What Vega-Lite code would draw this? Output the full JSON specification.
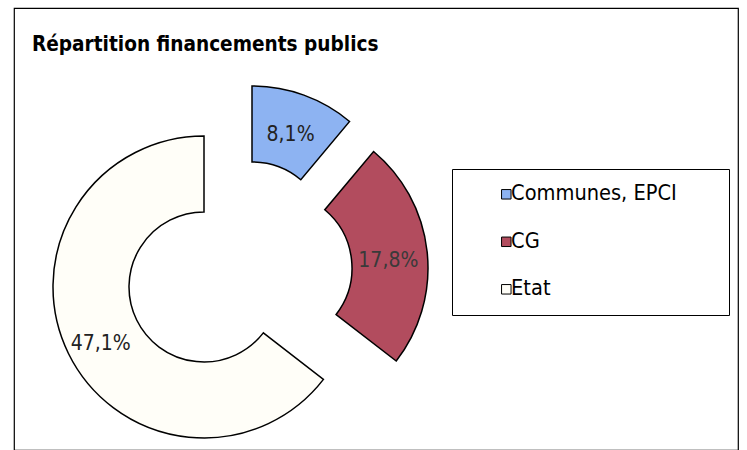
{
  "$schema": "https://vega.github.io/schema/vega-lite/v6.json",
  "autosize": "none",
  "width": 724,
  "height": 442,
  "padding": {"left": 14, "top": 8, "right": 9, "bottom": 0},
  "background": "white",
  "view": {"stroke": "black", "strokeWidth": 1.2},
  "config": {"view": {"stroke": "black", "strokeWidth": 1.2}, "font": "DejaVu Sans Condensed"},
  "title": {"text": "Répartition financements publics", "anchor": "start", "frame": "group", "orient": "top", "baseline": "alphabetic", "offset": -44, "dx": 18, "dy": 20, "font": "DejaVu Sans Condensed", "fontSize": 20.6, "fontWeight": "bold", "color": "black"},
  "data": {"values": [
    {"cat": "Communes, EPCI", "value": 8.1, "label": "8,1%"},
    {"cat": "CG", "value": 17.8, "label": "17,8%"},
    {"cat": "Etat", "value": 47.1, "label": "47,1%"}
  ]},
  "encoding": {
    "theta": {"field": "value", "type": "quantitative", "stack": true},
    "order": {"field": "value", "sort": "ascending"}
  },
  "layer": [
    {"mark": {"type": "arc", "x": 190, "y": 279, "radius": 151, "radius2": 75, "stroke": "black", "strokeWidth": 1.5},
     "encoding": {
       "color": {"field": "cat", "type": "nominal", "scale": {"domain": ["Communes, EPCI", "CG", "Etat"], "range": ["#8DB3F2", "#B24C5E", "#FFFEF8"]},
         "legend": {"orient": "none", "legendX": 438, "legendY": 161, "title": "\u00a0", "titleOrient": "right", "titlePadding": 38, "titleFontSize": 12, "strokeColor": "black", "fillColor": "white", "padding": 14.5, "symbolType": "square", "symbolSize": 90, "symbolStrokeColor": "black", "symbolStrokeWidth": 1, "labelFont": "DejaVu Sans Condensed", "labelFontSize": 21.6, "labelLimit": 400, "labelColor": "black", "rowPadding": 24.5, "symbolOffset": 29, "labelOffset": -6}},
       "opacity": {"condition": {"test": "datum.cat === 'Etat'", "value": 1}, "value": 0}}},
    {"mark": {"type": "text", "x": 190, "y": 279, "radius": 115, "dy": 6, "fontSize": 21, "color": "#222"},
     "encoding": {"text": {"field": "label"}, "opacity": {"condition": {"test": "datum.cat === 'Etat'", "value": 1}, "value": 0}}},
    {"mark": {"type": "arc", "x": 238, "y": 230, "radius": 152, "radius2": 76, "stroke": "black", "strokeWidth": 1.5},
     "encoding": {"color": {"field": "cat", "type": "nominal"}, "opacity": {"condition": {"test": "datum.cat === 'Communes, EPCI'", "value": 1}, "value": 0}}},
    {"mark": {"type": "text", "x": 238, "y": 230, "radius": 113, "dy": 3, "fontSize": 21, "color": "#222"},
     "encoding": {"text": {"field": "label"}, "opacity": {"condition": {"test": "datum.cat === 'Communes, EPCI'", "value": 1}, "value": 0}}},
    {"mark": {"type": "arc", "x": 262, "y": 260, "radius": 152, "radius2": 76, "stroke": "black", "strokeWidth": 1.5},
     "encoding": {"color": {"field": "cat", "type": "nominal"}, "opacity": {"condition": {"test": "datum.cat === 'CG'", "value": 1}, "value": 0}}},
    {"mark": {"type": "text", "x": 262, "y": 260, "radius": 113, "dy": 5, "fontSize": 21, "color": "#3a3a3a"},
     "encoding": {"text": {"field": "label"}, "opacity": {"condition": {"test": "datum.cat === 'CG'", "value": 1}, "value": 0}}}
  ]
}
